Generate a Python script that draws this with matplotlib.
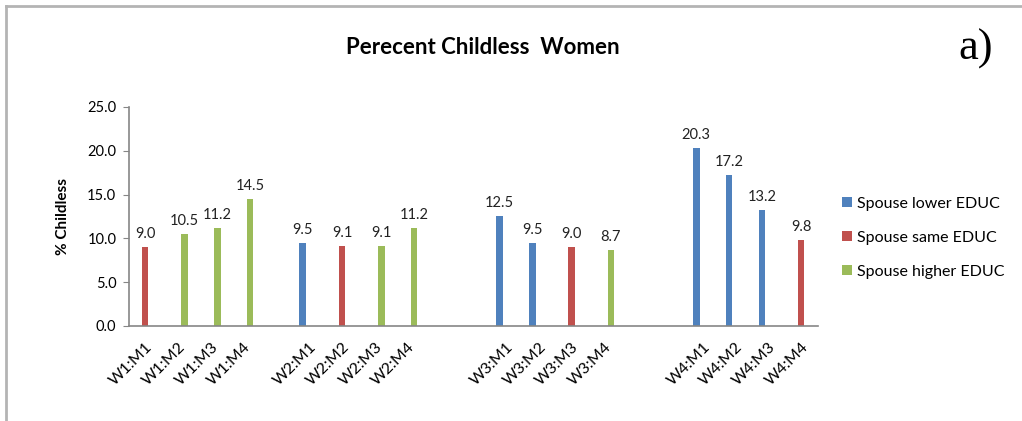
import numpy as np
import matplotlib
matplotlib.use("Agg")
import matplotlib.pyplot as plt

# categories, blanks ('') are spacer slots between the W groups
categories = ['W1:M1', 'W1:M2', 'W1:M3', 'W1:M4', '',
              'W2:M1', 'W2:M2', 'W2:M3', 'W2:M4', '', '',
              'W3:M1', 'W3:M2', 'W3:M3', 'W3:M4', '', '',
              'W4:M1', 'W4:M2', 'W4:M3', 'W4:M4']
N = np.nan
lower_educ = [N, N, N, N, N, 9.5, N, N, N, N, N, 12.5, 9.5, N, N, N, N, 20.3, 17.2, 13.2, N]
same_educ = [9.0, N, N, N, N, N, 9.1, N, N, N, N, N, N, 9.0, N, N, N, N, N, N, 9.8]
higher_educ = [N, 10.5, 11.2, 14.5, N, N, N, 9.1, 11.2, N, N, N, N, N, 8.7, N, N, N, N, N, N]
series_names = ['Spouse lower EDUC', 'Spouse same EDUC', 'Spouse higher EDUC']
colors = ['#4F81BD', '#C0504D', '#9BBB59']

font = 'Lato'
plt.rcParams['font.family'] = [font, 'DejaVu Sans']

fig = plt.figure(figsize=(10.22, 4.21), dpi=100)
ax = fig.add_axes([0.126, 0.2257, 0.674, 0.5203])

x = np.arange(len(categories))
w = 0.2
for k, (vals, name, c) in enumerate(zip([lower_educ, same_educ, higher_educ], series_names, colors)):
    vals = np.array(vals, dtype=float)
    xs = x + (k - 1) * w
    ax.bar(xs, np.nan_to_num(vals), width=w, color=c, label=name)
    for xi, v in zip(xs, vals):
        if not np.isnan(v):
            ax.text(xi, v + 0.7, f'{v:.1f}', ha='center', va='bottom', fontsize=10.5, color='#222222')

ax.set_xlim(-0.5, len(categories) - 0.5)
ax.set_ylim(0, 25)
ax.set_yticks(np.arange(0, 25.1, 5))
ax.set_yticklabels([f'{v:.1f}' for v in np.arange(0, 25.1, 5)], fontsize=10.5)
ax.set_xticks(x)
ax.set_xticklabels(categories, rotation=45, ha='right', rotation_mode='anchor', fontsize=11.5)
ax.tick_params(axis='x', length=0, pad=10)
ax.tick_params(axis='y', length=4, color='#868686', pad=5)
for s in ['top', 'right']:
    ax.spines[s].set_visible(False)
for s in ['left', 'bottom']:
    ax.spines[s].set_color('#868686')
    ax.spines[s].set_linewidth(1.2)

ax.set_ylabel('% Childless', fontsize=11, fontweight='bold', labelpad=12)

fig.text(0.472, 0.888, 'Perecent Childless  Women', ha='center', va='center',
         fontsize=16, fontweight='bold', family=['Liberation Sans Narrow', font])
fig.text(0.955, 0.885, 'a)', ha='center', va='center', fontsize=32, family='Liberation Serif')

leg = fig.legend(loc='center left', bbox_to_anchor=(0.81, 0.435), frameon=False,
                 fontsize=11.5, handlelength=0.6, handleheight=0.6, handletextpad=0.3,
                 labelspacing=1.25)

# chart frame (top and left edges only visible in the crop)
fig.add_artist(plt.Line2D([0.006, 1.0], [0.985, 0.985], color='#b4b4b4', lw=2, transform=fig.transFigure))
fig.add_artist(plt.Line2D([0.006, 0.006], [0.0, 0.985], color='#b4b4b4', lw=2, transform=fig.transFigure))

fig.savefig('out.png', dpi=100)
